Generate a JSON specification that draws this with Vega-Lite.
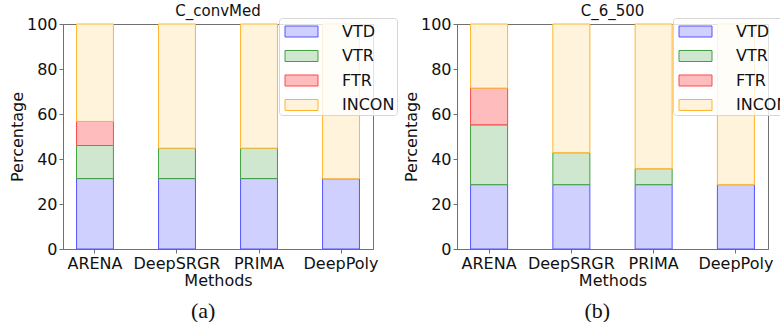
{
  "$schema": "https://vega.github.io/schema/vega-lite/v6.json",
  "padding": {"left": 8, "top": 3, "right": 0, "bottom": 0},
  "datasets": {
    "a": [
      {"method": "ARENA", "cat": "VTD", "k": 1, "value": 31.3},
      {"method": "ARENA", "cat": "VTR", "k": 2, "value": 14.7},
      {"method": "ARENA", "cat": "FTR", "k": 3, "value": 10.7},
      {"method": "ARENA", "cat": "INCON", "k": 4, "value": 43.3},
      {"method": "DeepSRGR", "cat": "VTD", "k": 1, "value": 31.3},
      {"method": "DeepSRGR", "cat": "VTR", "k": 2, "value": 13.5},
      {"method": "DeepSRGR", "cat": "INCON", "k": 4, "value": 55.2},
      {"method": "PRIMA", "cat": "VTD", "k": 1, "value": 31.3},
      {"method": "PRIMA", "cat": "VTR", "k": 2, "value": 13.5},
      {"method": "PRIMA", "cat": "INCON", "k": 4, "value": 55.2},
      {"method": "DeepPoly", "cat": "VTD", "k": 1, "value": 31.2},
      {"method": "DeepPoly", "cat": "INCON", "k": 4, "value": 68.8}
    ],
    "b": [
      {"method": "ARENA", "cat": "VTD", "k": 1, "value": 28.6},
      {"method": "ARENA", "cat": "VTR", "k": 2, "value": 26.6},
      {"method": "ARENA", "cat": "FTR", "k": 3, "value": 16.3},
      {"method": "ARENA", "cat": "INCON", "k": 4, "value": 28.5},
      {"method": "DeepSRGR", "cat": "VTD", "k": 1, "value": 28.6},
      {"method": "DeepSRGR", "cat": "VTR", "k": 2, "value": 14.2},
      {"method": "DeepSRGR", "cat": "INCON", "k": 4, "value": 57.2},
      {"method": "PRIMA", "cat": "VTD", "k": 1, "value": 28.6},
      {"method": "PRIMA", "cat": "VTR", "k": 2, "value": 7.1},
      {"method": "PRIMA", "cat": "INCON", "k": 4, "value": 64.3},
      {"method": "DeepPoly", "cat": "VTD", "k": 1, "value": 28.6},
      {"method": "DeepPoly", "cat": "INCON", "k": 4, "value": 71.4}
    ]
  },
  "config": {
    "font": "DejaVu Sans",
    "view": {"stroke": "#707070", "strokeWidth": 1},
    "axis": {
      "grid": false,
      "domainColor": "#707070",
      "tickColor": "#707070",
      "tickSize": 4,
      "labelPadding": 2,
      "labelFontSize": 16,
      "labelColor": "#111",
      "titleFontSize": 16,
      "titleFontWeight": "normal",
      "titleColor": "#111",
      "titlePadding": 1
    },
    "title": {"fontSize": 15, "fontWeight": "normal", "offset": -3, "color": "#111"},
    "legend": {
      "orient": "none",
      "legendX": 216,
      "legendY": -6,
      "symbolType": "M-1.5,-0.5H1.5V0.5H-1.5Z",
      "symbolSize": 484,
      "symbolStrokeWidth": 1,
      "symbolOffset": 9,
      "labelFontSize": 16,
      "labelColor": "#111",
      "labelOffset": 29,
      "rowPadding": 4.5,
      "padding": 2,
      "fillColor": "rgba(255,255,255,0.8)",
      "strokeColor": "#d6d6d6",
      "cornerRadius": 3
    },
    "concat": {"spacing": 4}
  },
  "resolve": {"legend": {"fill": "independent", "stroke": "independent"}},
  "hconcat": [
    {
      "title": {"text": "(a)", "orient": "bottom", "anchor": "middle", "font": "Liberation Serif", "fontSize": 22, "offset": 12},
      "vconcat": [
        {
          "width": 310,
          "height": 225,
          "title": "C_convMed",
          "data": {"name": "a"},
          "mark": {"type": "bar", "strokeWidth": 1},
          "encoding": {
            "x": {"field": "method", "type": "nominal", "sort": ["ARENA", "DeepSRGR", "PRIMA", "DeepPoly"], "scale": {"paddingInner": 0.55, "paddingOuter": 0.165}, "axis": {"title": "Methods", "labelAngle": 0}},
            "y": {"field": "value", "type": "quantitative", "stack": "zero", "scale": {"domain": [0, 100], "nice": false}, "axis": {"title": "Percentage", "values": [0, 20, 40, 60, 80, 100]}},
            "fill": {"field": "cat", "type": "nominal", "scale": {"domain": ["VTD", "VTR", "FTR", "INCON"], "range": ["#d0d0ff", "#cfe6cf", "#ffbcbc", "#fff3dc"]}, "legend": {"title": null}},
            "stroke": {"field": "cat", "type": "nominal", "scale": {"domain": ["VTD", "VTR", "FTR", "INCON"], "range": ["#5555ff", "#40a040", "#ff4848", "#ffb52e"]}, "legend": {"title": null}},
            "order": {"field": "k", "type": "quantitative"}
          }
        }
      ]
    },
    {
      "title": {"text": "(b)", "orient": "bottom", "anchor": "middle", "font": "Liberation Serif", "fontSize": 22, "offset": 12},
      "vconcat": [
        {
          "width": 311,
          "height": 225,
          "title": "C_6_500",
          "data": {"name": "b"},
          "mark": {"type": "bar", "strokeWidth": 1},
          "encoding": {
            "x": {"field": "method", "type": "nominal", "sort": ["ARENA", "DeepSRGR", "PRIMA", "DeepPoly"], "scale": {"paddingInner": 0.55, "paddingOuter": 0.165}, "axis": {"title": "Methods", "labelAngle": 0}},
            "y": {"field": "value", "type": "quantitative", "stack": "zero", "scale": {"domain": [0, 100], "nice": false}, "axis": {"title": "Percentage", "values": [0, 20, 40, 60, 80, 100]}},
            "fill": {"field": "cat", "type": "nominal", "scale": {"domain": ["VTD", "VTR", "FTR", "INCON"], "range": ["#d0d0ff", "#cfe6cf", "#ffbcbc", "#fff3dc"]}, "legend": {"title": null}},
            "stroke": {"field": "cat", "type": "nominal", "scale": {"domain": ["VTD", "VTR", "FTR", "INCON"], "range": ["#5555ff", "#40a040", "#ff4848", "#ffb52e"]}, "legend": {"title": null}},
            "order": {"field": "k", "type": "quantitative"}
          }
        }
      ]
    }
  ]
}
